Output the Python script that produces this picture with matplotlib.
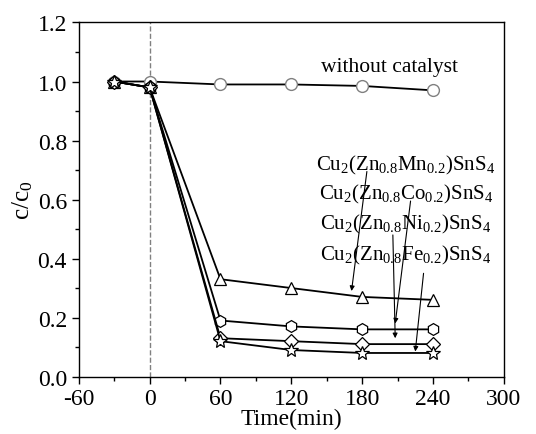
import matplotlib
matplotlib.use("Agg")
import matplotlib.pyplot as plt
from matplotlib.ticker import MultipleLocator

plt.rcParams['font.family'] = ['Liberation Serif', 'DejaVu Serif']
plt.rcParams['mathtext.fontset'] = 'custom'
plt.rcParams['mathtext.rm'] = 'Liberation Serif'
plt.rcParams['mathtext.it'] = 'Liberation Serif'
plt.rcParams['axes.unicode_minus'] = False

time = [-30, 0, 60, 120, 180, 240]
no_cat = [1.0, 1.0, 0.99, 0.99, 0.985, 0.97]
mn = [1.0, 0.98, 0.33, 0.30, 0.27, 0.26]
co = [1.0, 0.98, 0.19, 0.17, 0.16, 0.16]
ni = [1.0, 0.98, 0.13, 0.12, 0.11, 0.11]
fe = [1.0, 0.98, 0.12, 0.09, 0.08, 0.08]

labels = [r'Cu$_2$(Zn$_{0.8}$Mn$_{0.2}$)SnS$_4$',
          r'Cu$_2$(Zn$_{0.8}$Co$_{0.2}$)SnS$_4$',
          r'Cu$_2$(Zn$_{0.8}$Ni$_{0.2}$)SnS$_4$',
          r'Cu$_2$(Zn$_{0.8}$Fe$_{0.2}$)SnS$_4$']
label_y = [0.72, 0.62, 0.52, 0.415]
arrow_from = [(184, 0.695), (221, 0.595), (206, 0.48), (232, 0.35)]
arrow_to = [(171, 0.29), (208, 0.18), (208, 0.13), (225, 0.085)]

fig = plt.figure(figsize=(5.36, 4.35), dpi=100)
ax = fig.add_axes([0.147, 0.132, 0.793, 0.814])

ax.axvline(0, color='gray', ls='--', lw=1)

ms = 8.5
ax.plot(time, no_cat, '-', color='black', lw=1.3, marker='o', ms=ms,
        mfc='white', mec='gray', zorder=3)
ax.plot(time, mn, '-', color='black', lw=1.3, marker='^', ms=ms,
        mfc='white', mec='black', mew=0.9, zorder=3)
ax.plot(time, co, '-', color='black', lw=1.3, marker='h', ms=ms,
        mfc='white', mec='black', mew=0.9, zorder=3)
ax.plot(time, ni, '-', color='black', lw=1.3, marker='D', ms=7,
        mfc='white', mec='black', mew=0.9, zorder=3)
ax.plot(time, fe, '-', color='black', lw=1.3, marker='*', ms=10,
        mfc='white', mec='black', mew=0.9, zorder=4)

ax.text(203, 1.052, 'without catalyst', ha='center', va='center', fontsize=15.5)
for lab, ly, a0, a1 in zip(labels, label_y, arrow_from, arrow_to):
    ax.text(217, ly, lab, ha='center', va='center', fontsize=15)
    ax.annotate('', xy=a1, xytext=a0,
                arrowprops=dict(arrowstyle='-|>', color='black', lw=0.8,
                                mutation_scale=7, shrinkA=0, shrinkB=0))

ax.set_xlim(-60, 300)
ax.set_ylim(0, 1.2)
ax.set_xticks([-60, 0, 60, 120, 180, 240, 300])
ax.xaxis.set_minor_locator(MultipleLocator(30))
ax.yaxis.set_major_locator(MultipleLocator(0.2))
ax.yaxis.set_minor_locator(MultipleLocator(0.1))
ax.yaxis.set_major_formatter(matplotlib.ticker.FormatStrFormatter('%.1f'))
ax.tick_params(which='both', direction='out', top=False, right=False,
               labelsize=17, width=1)
ax.tick_params(which='major', length=5)
ax.tick_params(which='minor', length=3)
ax.set_xlabel('Time(min)', fontsize=17, labelpad=-1)
ax.set_ylabel(r'c/c$_0$', fontsize=18, labelpad=2)
for s in ax.spines.values():
    s.set_linewidth(1)

fig.savefig('out.png', dpi=100)
